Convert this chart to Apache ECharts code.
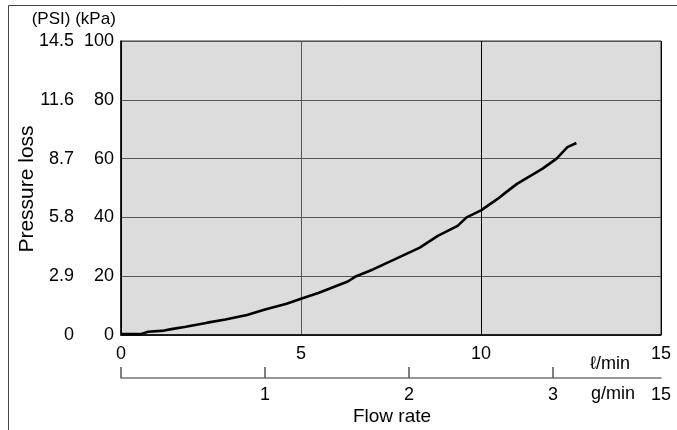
<!DOCTYPE html>
<html>
<head>
<meta charset="utf-8">
<script src="https://cdn.jsdelivr.net/npm/echarts@6/dist/echarts.min.js"></script>
<style>
html,body{margin:0;padding:0;background:#fff;}
#c{width:677px;height:430px;}
</style>
</head>
<body>
<div id="c"></div>
<script>
// Flow rate (l/min)
var flowLmin = [0, 0.55, 0.75, 1.2, 1.4, 1.8, 2.4, 2.9, 3.5, 4.0, 4.6, 5.0, 5.5, 5.8, 6.3, 6.5, 7.0, 7.6, 8.3, 8.8, 9.35, 9.6, 10.0, 10.45, 10.7, 11.0, 11.7, 12.1, 12.4, 12.65];
// Pressure loss (kPa)
var pressureKPa = [0.3, 0.3, 1.1, 1.5, 2.0, 2.8, 4.2, 5.3, 6.8, 8.7, 10.6, 12.3, 14.4, 15.8, 18.2, 19.8, 22.3, 25.7, 29.7, 33.7, 37.1, 40.0, 42.4, 46.2, 48.6, 51.4, 56.5, 60.0, 63.9, 65.3];
// Tick labels
var kpaTicks = [0, 20, 40, 60, 80, 100];
var psiLabels = ['0', '2.9', '5.8', '8.7', '11.6', '14.5'];
var lminTicks = [0, 5, 10, 15];
var gminTicks = [0, 1, 2, 3];
var gminLabelValues = [1, 2, 3, 3.75];
var gminLabelTexts = ['1', '2', '3', '15'];

var chart = echarts.init(document.getElementById('c'), null, {renderer: 'canvas'});
var FONT = 'Liberation Sans, Arial, Helvetica, sans-serif';
var FS = 18;
var lineData = flowLmin.map(function (x, i) { return [x, pressureKPa[i]]; });

function txt(text, x, y, size, align, rot) {
  return {
    type: 'text', x: x, y: y, rotation: rot || 0, silent: true,
    style: {text: text, fontSize: size, fontFamily: FONT, fill: '#000', textAlign: align || 'center', textVerticalAlign: 'middle'}
  };
}

chart.setOption({
  animation: false,
  backgroundColor: '#fff',
  textStyle: {fontFamily: FONT},
  grid: {
    left: 121, right: 16, top: 41, bottom: 95,
    show: true, backgroundColor: '#dcdcdc', borderColor: '#333', borderWidth: 1
  },
  xAxis: [{
    type: 'value', position: 'bottom', min: lminTicks[0], max: lminTicks[lminTicks.length - 1], interval: 5,
    axisLine: {show: true, onZero: false, lineStyle: {color: '#000', width: 1.5}},
    axisTick: {show: false},
    axisLabel: {color: '#000', fontSize: FS, margin: 10, fontFamily: FONT},
    splitLine: {show: true, lineStyle: {color: ['#000', '#555', '#000', '#000'], width: 1}}
  }, {
    type: 'value', position: 'bottom', offset: 43, min: 0, max: 3.75,
    axisLine: {show: true, onZero: false, lineStyle: {color: '#777', width: 1.5}},
    axisTick: {show: true, inside: true, length: 11, customValues: gminTicks, lineStyle: {color: '#555', width: 1.5}},
    axisLabel: {
      color: '#000', fontSize: FS, margin: 8, fontFamily: FONT, customValues: gminLabelValues,
      formatter: function (v) {
        for (var i = 0; i < gminLabelValues.length; i++) {
          if (Math.abs(gminLabelValues[i] - v) < 1e-6) return gminLabelTexts[i];
        }
        return '';
      }
    },
    splitLine: {show: false}
  }],
  yAxis: [{
    type: 'value', position: 'left', min: kpaTicks[0], max: kpaTicks[kpaTicks.length - 1], interval: 20,
    axisLine: {show: true, lineStyle: {color: '#000', width: 1.5}},
    axisTick: {show: false},
    axisLabel: {color: '#000', fontSize: FS, margin: 7, fontFamily: FONT},
    splitLine: {show: true, lineStyle: {color: '#555', width: 1}}
  }, {
    type: 'value', position: 'left', offset: 40, min: 0, max: 100, interval: 20,
    axisLine: {show: false},
    axisTick: {show: false},
    axisLabel: {
      color: '#000', fontSize: FS, margin: 7, fontFamily: FONT,
      formatter: function (v) { return psiLabels[Math.round(v / 20)]; }
    },
    splitLine: {show: false}
  }],
  graphic: [
    {type: 'rect', shape: {x: 8.5, y: 5.5, width: 720, height: 500}, style: {fill: 'none', stroke: '#444', lineWidth: 1}, silent: true, z: -1},
    txt('Pressure loss', 27, 189, 21, 'center', Math.PI / 2),
    txt('(PSI)', 51, 19, 17),
    txt('(kPa)', 95.5, 19, 17),
    txt('ℓ/min', 610, 364, FS),
    txt('g/min', 613, 394, FS),
    txt('Flow rate', 392, 417, 19)
  ],
  series: [{
    type: 'line', xAxisIndex: 0, yAxisIndex: 0, data: lineData,
    showSymbol: false, smooth: false,
    lineStyle: {color: '#000', width: 2.6}
  }]
});
</script>
</body>
</html>
